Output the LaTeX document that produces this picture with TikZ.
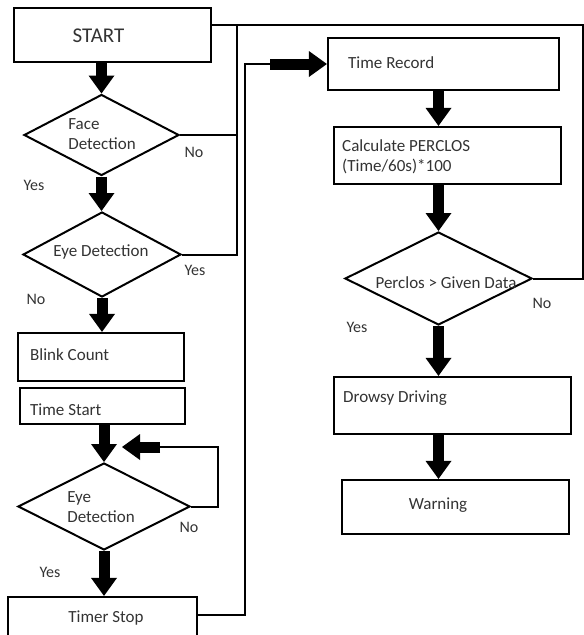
\documentclass[tikz,border=0pt]{standalone}
\usepackage{fontspec}
\setmainfont{Carlito}
\usetikzlibrary{shapes.geometric,arrows.meta}
\begin{document}
\begin{tikzpicture}[x=1pt,y=-1pt,
 box/.style={draw, line width=2.2pt, rectangle, inner sep=0pt},
 dia/.style={draw, line width=2pt, diamond, inner sep=0pt},
 txt/.style={font=\fontsize{17}{20}\selectfont, text=black!80, inner sep=0pt},
 lab/.style={font=\fontsize{16}{19}\selectfont, text=black!80, inner sep=0pt},
 wire/.style={line width=2pt},
 fat/.style={line width=11pt, -{Triangle[width=26pt,length=18pt,line width=0pt]}}
]
\clip (0,0) rectangle (584,635);
% boxes
\node[box, minimum width=197pt, minimum height=54pt] (start) at (112.5,35) {};
\node[box, minimum width=166pt, minimum height=48pt] (blink) at (101,357) {};
\node[box, minimum width=165pt, minimum height=36pt] (timestart) at (102.5,406) {};
\node[box, minimum width=189pt, minimum height=53pt] (timerstop) at (102.5,623.5) {};
\node[box, minimum width=231pt, minimum height=52pt] (timerecord) at (443.5,64) {};
\node[box, minimum width=227pt, minimum height=57pt] (calc) at (447.5,155.5) {};
\node[box, minimum width=237pt, minimum height=57pt] (drowsy) at (452.5,405.5) {};
\node[box, minimum width=227pt, minimum height=54pt] (warning) at (455.5,507) {};
% diamonds
\node[dia, minimum width=155pt, minimum height=81pt] (face) at (101.5,135) {};
\node[dia, minimum width=158pt, minimum height=85pt] (eye1) at (102,254.5) {};
\node[dia, minimum width=172pt, minimum height=87pt] (eye2) at (104,506.5) {};
\node[dia, minimum width=187pt, minimum height=93pt] (perc) at (438.5,278.5) {};
% texts
\node[txt, font=\fontsize{21}{24}\selectfont] (startT) at (98.5,36) {START};
\node[txt, align=left] (faceT) at (102,134) {Face\\Detection};
\node[txt] (eye1T) at (101,252) {Eye Detection};
\node[txt, align=left] (eye2T) at (101,507) {Eye\\Detection};
\node[txt] (percT) at (446,283) {Perclos > Given Data};
\node[txt, anchor=west] (timerecordT) at (348,63) {Time Record};
\node[txt, anchor=west, align=left] (calcT) at (342,157) {Calculate PERCLOS\\(Time/60s)*100};
\node[txt, anchor=west] (drowsyT) at (343,398) {Drowsy Driving};
\node[txt] (warningT) at (438,505) {Warning};
\node[txt, anchor=west] (blinkT) at (30,355) {Blink Count};
\node[txt, anchor=west] (timestartT) at (30,410) {Time Start};
\node[txt] (timerstopT) at (106,618) {Timer Stop};
% branch labels
\node[lab] (l1) at (194,152) {No};
\node[lab] (l2) at (34,185) {Yes};
\node[lab] (l3) at (195,270) {Yes};
\node[lab] (l4) at (36,299) {No};
\node[lab] (l5) at (189,527) {No};
\node[lab] (l6) at (50,572) {Yes};
\node[lab] (l7) at (542,303) {No};
\node[lab] (l8) at (357,327) {Yes};
% coordinates
\coordinate (j1) at (237,25);
\coordinate (tr) at (583,25);
\coordinate (rc) at (583,278.5);
\coordinate (v2top) at (245,64);
\coordinate (v2bot) at (245,615);
\coordinate (fs) at (270,64);
\coordinate (lp1) at (218,506.5);
\coordinate (lp2) at (218,447);
\coordinate (lp3) at (160,447);
\coordinate (lp4) at (122,447);
% thin connectors
\draw[wire] (start.east |- j1) -- (tr) -- (rc) -- (perc.east);
\draw[wire] (face.east) -- (face.east -| j1);
\draw[wire] (eye1.east) -- (eye1.east -| j1) -- (j1);
\draw[wire] (timerstop.east |- v2bot) -- (v2bot) -- (v2top) -- (fs);
\draw[wire] (eye2.east) -- (lp1) -- (lp2) -- (lp3);
% fat arrows
\draw[fat] (fs) -- (timerecord.west);
\draw[fat] (lp3) -- (lp4);
\draw[fat] (start.south -| face.north) -- (face.north);
\draw[fat] (face.south) -- (face.south |- eye1.north);
\draw[fat] (eye1.south) -- (eye1.south |- blink.north);
\draw[fat] (timestart.south -| eye2.north) -- (eye2.north);
\draw[fat] (eye2.south) -- (eye2.south |- timerstop.north);
\draw[fat] (perc.north |- timerecord.south) -- (perc.north |- calc.north);
\draw[fat] (perc.north |- calc.south) -- (perc.north);
\draw[fat] (perc.south) -- (perc.south |- drowsy.north);
\draw[fat] (perc.south |- drowsy.south) -- (perc.south |- warning.north);
\end{tikzpicture}
\end{document}
